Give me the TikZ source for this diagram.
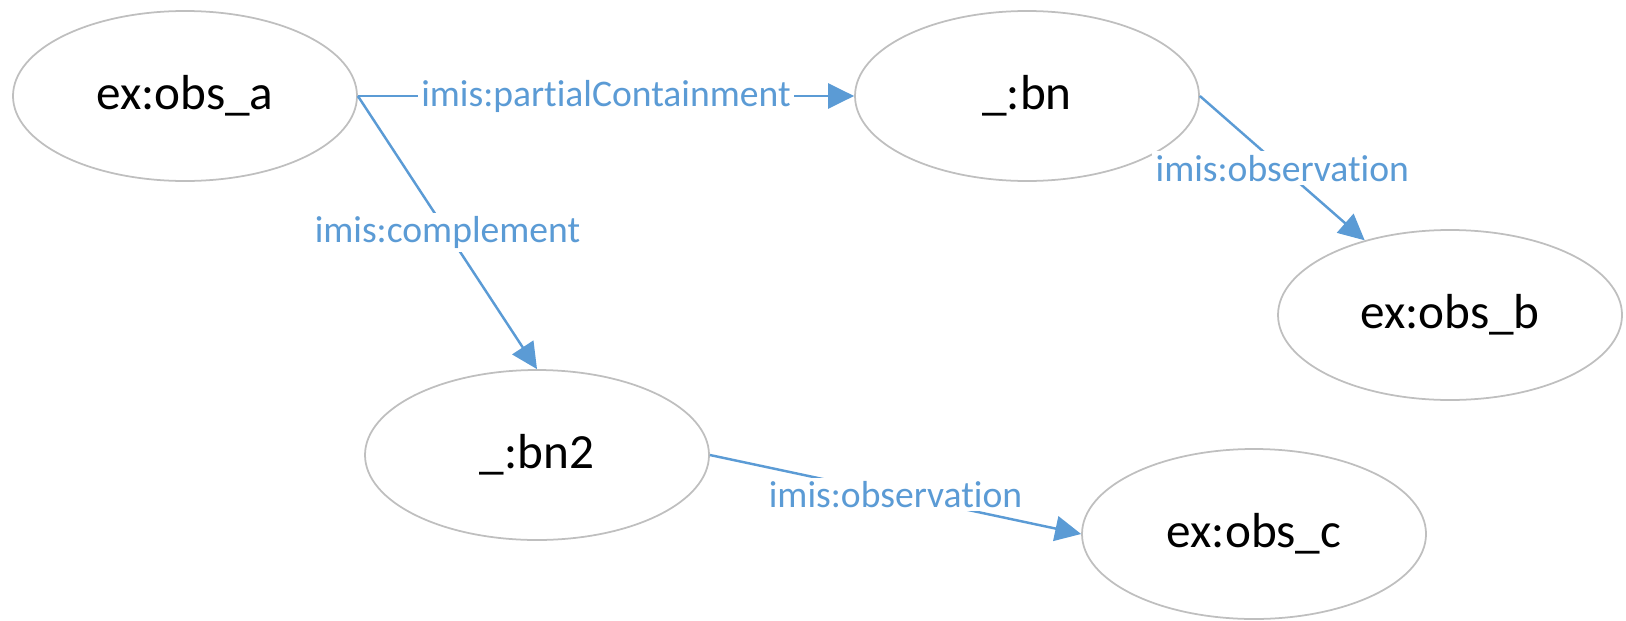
\documentclass[tikz,border=0pt]{standalone}
\usepackage{fontspec}
\setmainfont[Ligatures={NoCommon,NoRare}]{Carlito}
\usetikzlibrary{shapes.geometric,arrows.meta}
\definecolor{linkblue}{RGB}{91,155,213}
\tikzset{
  obsnode/.style={ellipse, draw=black!25, line width=0.5pt, minimum width=3.44cm, minimum height=1.70cm, inner sep=0pt, font=\fontsize{14}{16}\selectfont},
  rel/.style={draw=linkblue, line width=0.7pt, -{Triangle[length=0.26cm,width=0.25cm]}},
  rellabel/.style={fill=white, inner sep=1pt, text=linkblue, font=\fontsize{10.7}{12}\selectfont}
}
\begin{document}
\begin{tikzpicture}[line join=round]
			\useasboundingbox (0,0) rectangle (16.26,6.2);
			\node[obsnode] (Oa) at (1.85,5.24) {ex:obs\_a};
			\node[obsnode] (Bn) at (10.27,5.24) {\_:bn};
			\node[obsnode] (Ob) at (14.50,3.05) {ex:obs\_b};
			\node[obsnode] (Bn2) at (5.37,1.65) {\_:bn2};
			\node[obsnode] (Oc) at (12.54,0.86) {ex:obs\_c};
			\draw[rel] (Oa.east) -- node[rellabel] {imis:partialContainment} (Bn.west);
			\draw[rel] (Oa.east) -- node[rellabel] {imis:complement} (Bn2.north);
			\draw[rel] (Bn.east) -- node[rellabel] {imis:observation} (Ob);
			\draw[rel] (Bn2.east) -- node[rellabel] {imis:observation} (Oc.west);
\end{tikzpicture}
\end{document}
